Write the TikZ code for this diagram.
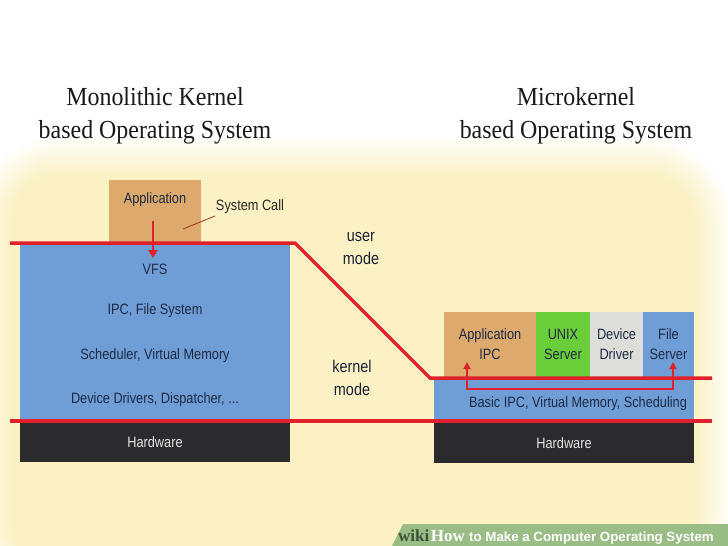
\documentclass[tikz,border=0pt]{standalone}
\usepackage{fontspec}
\setmainfont{Liberation Serif}
\newfontfamily\titlefont{Liberation Serif}[FakeStretch=0.92]
\newfontfamily\boxfont{Liberation Sans}[FakeStretch=0.85]
\newfontfamily\bannerfont{Liberation Sans}
\usetikzlibrary{arrows.meta}
\definecolor{bgyellow}{HTML}{FBF1C4}
\definecolor{tanbox}{HTML}{DDA96C}
\definecolor{kblue}{HTML}{6F9ED6}
\definecolor{hwblack}{HTML}{2B2B2D}
\definecolor{kred}{HTML}{E0202A}
\definecolor{ugreen}{HTML}{6ACD3A}
\definecolor{dgray}{HTML}{DDDDDA}
\definecolor{banner}{HTML}{9ABD86}
\definecolor{txt}{HTML}{1E2A44}
\definecolor{hwtext}{HTML}{E6E6E6}
\definecolor{syscol}{HTML}{A0302A}
\definecolor{wikicol}{HTML}{3F5238}
\begin{document}
\begin{tikzpicture}[x=1pt,y=-1pt,
  lbl/.style={font=\boxfont\fontsize{15}{20}\selectfont, text=txt, inner sep=0pt, align=center},
  modelbl/.style={font=\boxfont\fontsize{17}{23}\selectfont, text=txt!80!black, inner sep=0pt, align=center},
  layer/.style={rectangle, inner sep=0pt, outer sep=0pt, draw=none, font=\boxfont\fontsize{15}{20}\selectfont, text=txt, align=center},
  redline/.style={draw=kred, line width=3.5pt},
  redarrow/.style={draw=kred, line width=2.6pt, -{Triangle[length=8pt,width=9pt]}},
  redarrowtwo/.style={draw=kred, line width=1.8pt, {Triangle[length=7pt,width=7pt]}-{Triangle[length=7pt,width=7pt]}},
  title/.style={font=\titlefont\fontsize{26}{33}\selectfont, align=center, inner sep=0pt, text=black!90}]
\useasboundingbox (0,0) rectangle (728,546);
\fill[white] (0,0) rectangle (728,546);
% soft yellow background
\foreach \i in {0,...,20}{
  \pgfmathsetmacro\p{\i*5}
  \fill[bgyellow!\p!white, rounded corners={90-\i*2}] ({-30+\i*2},{135+\i*2}) rectangle ({735-\i*2},{590-\i});
}

% titles
\node[title] (t1) at (155,116) {Monolithic Kernel\\based Operating System};
\node[title] (t2) at (576,116) {Microkernel\\based Operating System};

% monolithic side
\node[layer, fill=tanbox, minimum width=92pt, minimum height=62pt] (app) at (155,211) {};
\node[lbl] (apptxt) at (155,200) {Application};
\node[lbl, text=black!85] (syscall) at (250,207) {System Call};
\coordinate (scA) at (183,229);
\coordinate (scB) at (215,216);
\draw[syscol, line width=0.8pt] (scA) -- (scB);
\node[layer, fill=kblue, minimum width=270pt, minimum height=177pt] (mono) at (155,331.5) {};
\node[lbl] (vfs) at (155,269) {VFS};
\node[lbl] (ipcfs) at (155,311) {IPC, File System};
\node[lbl] (sched) at (155,356) {Scheduler, Virtual Memory};
\node[lbl] (devdrv) at (155,400) {Device Drivers, Dispatcher, ...};
\node[layer, fill=hwblack, text=hwtext, minimum width=270pt, minimum height=39pt] (hwl) at (155,442.5) {Hardware};

% mode labels
\node[modelbl] (umode) at (361,248.5) {user\\mode};
\node[modelbl] (kmode) at (352,377.5) {kernel\\mode};

% microkernel side
\node[layer, fill=tanbox, minimum width=92pt, minimum height=65pt] (appipc) at (490,344.5) {Application\\IPC};
\node[layer, fill=ugreen, minimum width=54pt, minimum height=65pt] (unix) at (563,344.5) {UNIX\\Server};
\node[layer, fill=dgray, minimum width=53pt, minimum height=65pt] (ddrv) at (616.5,344.5) {Device\\Driver};
\node[layer, fill=kblue, minimum width=51pt, minimum height=65pt] (fsrv) at (668.5,344.5) {File\\Server};
\node[layer, fill=kblue, minimum width=260pt, minimum height=42pt] (basic) at (564,399) {};
\node[lbl] (basictxt) at (578,404) {Basic IPC, Virtual Memory, Scheduling};
\node[layer, fill=hwblack, text=hwtext, minimum width=260pt, minimum height=40pt] (hwr) at (564,443) {Hardware};

% red boundary lines
\coordinate (u0) at (10,243);
\coordinate (u1) at (295,243);
\coordinate (u2) at (430,378);
\coordinate (u3) at (712,378);
\coordinate (k0) at (10,421);
\coordinate (k1) at (712,421);
\draw[redline] (u0) -- (u1) -- (u2) -- (u3);
\draw[redline] (k0) -- (k1);

% arrows
\coordinate (a0) at (153,221);
\coordinate (a1) at (153,258);
\draw[redarrow] (a0) -- (a1);
\coordinate (m0) at (467,362);
\coordinate (m1) at (467,389);
\coordinate (m2) at (673,389);
\coordinate (m3) at (673,362);
\draw[redarrowtwo] (m0) -- (m1) -- (m2) -- (m3);

% banner
\fill[banner] (392,546) -- (403,524) -- (728,524) -- (728,546) -- cycle;
\node[anchor=base west, inner sep=0pt, text=wikicol, font=\bfseries\fontsize{17}{17}\selectfont] (wiki) at (398,541) {wiki};
\node[anchor=base west, inner sep=0pt, xshift=1pt, text=white, font=\bfseries\fontsize{17}{17}\selectfont] (how) at (wiki.base east) {How};
\node[anchor=base west, inner sep=0pt, xshift=4pt, text=white, font=\bannerfont\bfseries\fontsize{13.3}{14}\selectfont] (rest) at (how.base east) {to Make a Computer Operating System};
\end{tikzpicture}
\end{document}
